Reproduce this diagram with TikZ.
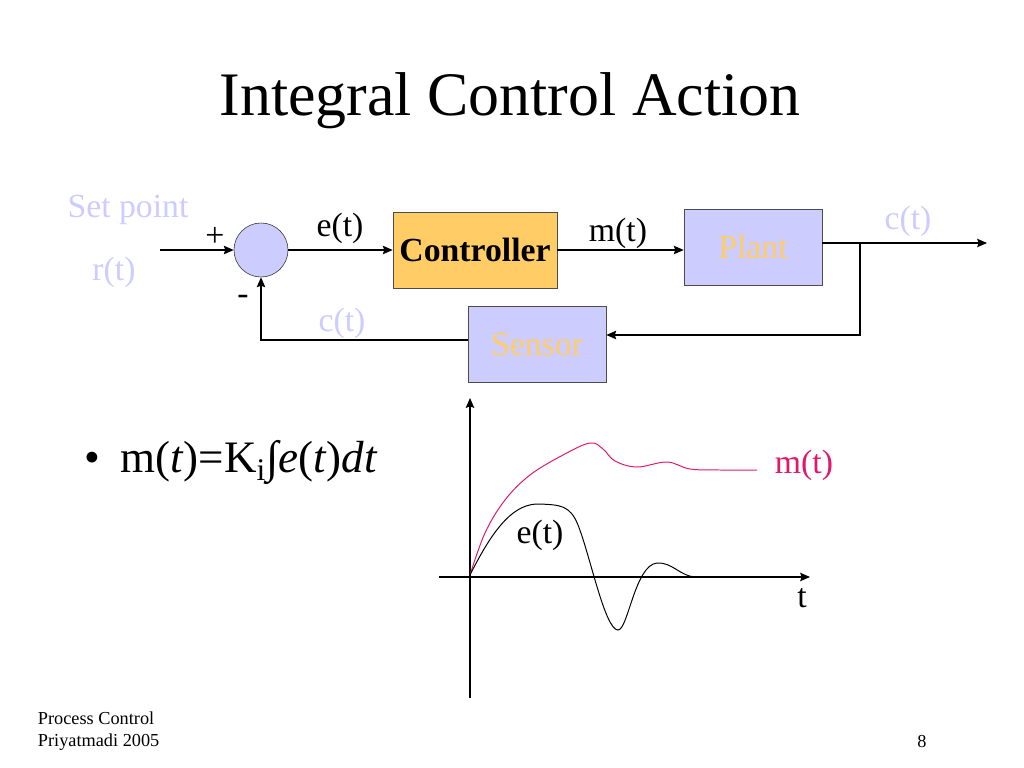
\documentclass[tikz,border=0pt]{standalone}
\usepackage{fontspec}
\setmainfont{Liberation Serif}
\usetikzlibrary{arrows.meta}
\definecolor{lav}{HTML}{CCCCFF}
\definecolor{gold}{HTML}{FFCC66}
\definecolor{pink}{HTML}{E0186A}
\begin{document}
\begin{tikzpicture}[>={Stealth[length=7pt,width=6pt,inset=1pt]}, x=0.025cm, y=-0.025cm,
  blk/.style={draw=black!70, fill=lav, minimum width=3.45cm, minimum height=1.9cm, font=\fontsize{24}{28}\selectfont, text=gold},
  lbl/.style={font=\fontsize{24}{28}\selectfont},
  sig/.style={line width=0.9pt}]
\useasboundingbox (0,0) rectangle (1024,768);
\node[font=\fontsize{44}{52}\selectfont] (title) at (510,101) {Integral Control Action};
% block diagram
\node[lbl, text=lav] (setpt) at (128,210) {Set point};
\node[lbl, text=lav] (rt) at (114,272) {r(t)};
\node[circle, draw=black!80, fill=lav, minimum size=1.35cm, inner sep=0pt] (sum) at (261,250) {};
\node[draw=black!70, fill=gold, minimum width=4.1cm, minimum height=1.9cm, font=\fontsize{24}{28}\selectfont\bfseries] (ctrl) at (475,250) {Controller};
\node[blk] (plant) at (753,247) {Plant};
\node[blk] (sensor) at (537,344) {Sensor};
\coordinate (in) at (160,250);
\coordinate (out) at (987,243);
\coordinate (branch) at (860,243);
\coordinate (corner) at (261,340);
\draw[sig, ->] (in) -- (sum);
\draw[sig, ->] (sum) -- (ctrl);
\draw[sig, ->] (ctrl) -- (ctrl -| plant.west);
\draw[sig, ->] (plant.east |- out) -- (out);
\draw[sig, ->] (branch) |- (sensor.east |- 0,335);
\draw[sig, ->] (sensor.west |- corner) -- (corner) -- (sum);
\node[lbl] (plus) at (215,237) {+};
\node[lbl] (minus) at (243,300) {-};
\node[lbl] (et) at (340,228) {e(t)};
\node[lbl] (mt) at (618,233) {m(t)};
\node[lbl, text=lav] (ct) at (908,221) {c(t)};
\node[lbl, text=lav] (cfb) at (342,323) {c(t)};
% formula
\node[anchor=west, font=\fontsize{32}{38}\selectfont] (law) at (80,462) {•\hspace{14pt}m(\textit{t})=K\textsubscript{i}∫\textit{e}(\textit{t})\textit{dt}};
% response graph
\draw[sig, ->] (470,698) -- (470,398);
\draw[sig, ->] (439,577) -- (810,577);
\node[lbl] (tax) at (802,598) {t};
\draw[line width=0.7pt, pink] plot[smooth, tension=0.6] coordinates {(470,575) (485,533) (505,500) (530,475) (563,455) (590,443) (603,449) (615,461) (637,467) (667,462) (690,469) (720,470) (757,470)};
\draw[line width=0.7pt] (470,575) .. controls (495,525) and (515,503) .. (540,504)
  .. controls (560,505) and (570,505) .. (578,525)
  .. controls (590,555) and (605,630) .. (618,630)
  .. controls (628,630) and (635,565) .. (657,563)
  .. controls (672,562) and (680,576) .. (695,577) -- (763,577);
\node[lbl, text=pink] (mlab) at (804,465) {m(t)};
\node[lbl] (elab) at (540,535) {e(t)};
% footer
\node[anchor=west, font=\fontsize{13}{15}\selectfont] (foot1) at (33,718) {Process Control};
\node[anchor=west, font=\fontsize{13}{15}\selectfont] (foot2) at (33,742) {Priyatmadi 2005};
\node[font=\fontsize{13}{15}\selectfont] (page) at (922,742) {8};
\end{tikzpicture}
\end{document}
